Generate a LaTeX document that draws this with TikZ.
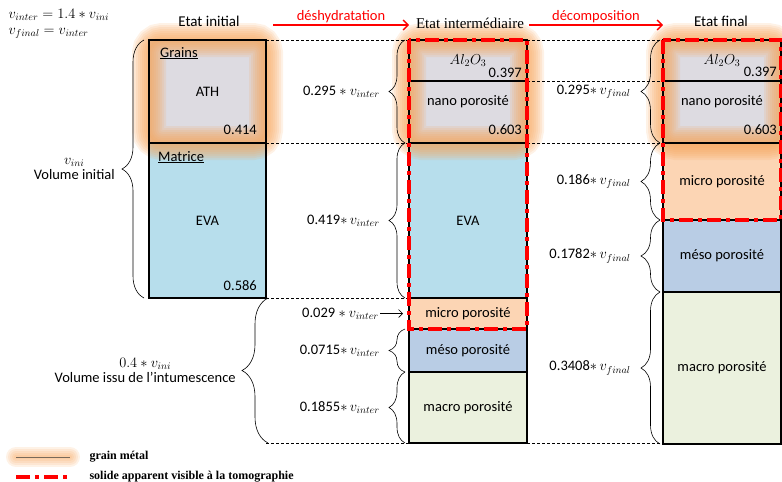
\documentclass[tikz,border=0pt]{standalone}
\usepackage{fontspec}
\setmainfont{Carlito}
\newfontfamily\cambria{Liberation Serif}
\usetikzlibrary{arrows.meta,positioning,calc,decorations.pathreplacing}
\definecolor{graingray}{RGB}{221,219,225}
\definecolor{evablue}{RGB}{183,222,236}
\definecolor{micropeach}{RGB}{252,213,180}
\definecolor{mesoblue}{RGB}{185,205,229}
\definecolor{macrogreen}{RGB}{235,241,222}
\definecolor{haloorange}{RGB}{247,165,90}
\definecolor{tomored}{RGB}{255,0,0}
\definecolor{legline}{RGB}{120,105,90}
\pgfdeclarelayer{fills}
\pgfdeclarelayer{halo}
\pgfsetlayers{fills,halo,main}

\begin{document}
\begin{tikzpicture}[x=1pt, y=-1pt,
      every node/.style={font=\fontsize{14.5}{15}\selectfont},
      box/.style={draw, line width=1.5pt, anchor=north west, minimum width=118pt,
                  inner sep=0pt, outer sep=0pt},
      num/.style={anchor=base east, inner sep=0pt},
      title/.style={font=\fontsize{15}{18}\selectfont},
      guide/.style={densely dashed, line width=0.5pt},
      curly/.style={decorate, decoration={brace, amplitude=#1}, line width=0.6pt},
      curly/.default=16pt,
      blab/.style={inner sep=1pt},
      tomo/.style={tomored, line width=3.5pt, dash pattern=on 14pt off 5pt on 4pt off 5pt},
      redarr/.style={tomored, line width=1.4pt, -{Straight Barb[length=5pt,width=10pt]}},
      redlab/.style={above, inner sep=1pt, text=tomored},
      legtxt/.style={anchor=west, font=\cambria\bfseries\fontsize{12}{13}\selectfont}
    ]
      \useasboundingbox (0,0) rectangle (782,482);

      % etat initial
      \node[box, minimum width=117pt, minimum height=103pt] (ath) at (149,40) {ATH};
      \node[box, minimum width=117pt, minimum height=155pt] (eva1) at (ath.south west) {EVA};
      \node[anchor=base west, inner sep=0pt] (grains) at ([xshift=11pt,yshift=-17pt]ath.north west) {\underline{Grains}};
      \node[anchor=base west, inner sep=0pt] (matrice) at ([xshift=9pt,yshift=-18pt]eva1.north west) {\underline{Matrice}};
      \node[num] (n414) at ([xshift=-9pt,yshift=9pt]ath.south east) {0.414};
      \node[num] (n586) at ([xshift=-9pt,yshift=8pt]eva1.south east) {0.586};

      % etat intermediaire
      \node[box, minimum height=41pt] (alu2) at (409,40) {$Al_2O_3$};
      \node[box, minimum height=62pt] (nano2) at (alu2.south west) {};
      \node[box, minimum height=155pt] (eva2) at (nano2.south west) {EVA};
      \node[box, minimum height=31pt] (micro2) at (eva2.south west) {micro porosité};
      \node[box, minimum height=43pt] (meso2) at (micro2.south west) {méso porosité};
      \node[box, minimum height=71pt] (macro2) at (meso2.south west) {macro porosité};
      \node (nanot2) at ([yshift=10pt]nano2.center) {nano porosité};
      \node[num] (n397b) at ([xshift=-5pt,yshift=4pt]alu2.south east) {0.397};
      \node[num] (n603b) at ([xshift=-5pt,yshift=9pt]nano2.south east) {0.603};

      % etat final
      \node[box, minimum height=41pt] (alu3) at (663,40) {$Al_2O_3$};
      \node[box, minimum height=62pt] (nano3) at (alu3.south west) {};
      \node[box, minimum height=77pt] (micro3) at (nano3.south west) {micro porosité};
      \node[box, minimum height=72pt] (meso3) at (micro3.south west) {méso porosité};
      \node[box, minimum height=152pt] (macro3) at (meso3.south west) {macro porosité};
      \node (nanot3) at ([yshift=10pt]nano3.center) {nano porosité};
      \node[num] (n397c) at ([xshift=-4pt,yshift=5pt]alu3.south east) {0.397};
      \node[num] (n603c) at ([xshift=-4pt,yshift=9pt]nano3.south east) {0.603};

      \begin{pgfonlayer}{fills}
        \foreach \b/\c in {ath/graingray, eva1/evablue, alu2/graingray, nano2/graingray,
                           eva2/evablue, micro2/micropeach, meso2/mesoblue, macro2/macrogreen,
                           alu3/graingray, nano3/graingray, micro3/micropeach, meso3/mesoblue,
                           macro3/macrogreen}
          \fill[\c] (\b.north west) rectangle (\b.south east);
      \end{pgfonlayer}

      % halo des grains
      \begin{pgfonlayer}{halo}
        \foreach \t/\b in {ath/ath, alu2/nano2, alu3/nano3}
          \foreach \w in {2,6,...,34}
            \draw[haloorange, line width=\w pt, opacity=0.15, rounded corners=13pt]
              (\t.north west) rectangle (\b.south east);
      \end{pgfonlayer}

      % titres et transformations
      \node[title] (t1) at (209,21) {Etat initial};
      \node[title, font=\cambria\fontsize{15}{18}\selectfont] (t2) at (470,23) {Etat intermédiaire};
      \node[title] (t3) at (721,21) {Etat final};
      \coordinate (d1) at (273,25);
      \coordinate (d2) at (529,25);
      \draw[redarr] (d1) -- node[redlab] (deshy) {déshydratation} (d1 -| alu2.west);
      \draw[redarr] (d2) -- node[redlab] (decomp) {décomposition} (d2 -| alu3.west);

      \node[anchor=west] (eq1) at (5,15) {$v_{inter} = 1.4 * v_{ini}$};
      \node[anchor=west] (eq2) at (5,33) {$v_{final} = v_{inter}$};

      % lignes de rappel
      \coordinate (intbot) at (eva1.south east |- macro2.south west);
      \draw[guide] (ath.north east) -- (alu2.north west);
      \draw[guide] (alu2.north east) -- (alu3.north west);
      \draw[guide] (alu2.south east) -- (alu3.south west);
      \draw[guide] (ath.south east) -- (nano2.south west);
      \draw[guide] (nano2.south east) -- (nano3.south west);
      \draw[guide] (eva1.south east) -- (eva2.south west);
      \draw[guide] (intbot) -- (macro2.south west);
      \draw[guide] (macro2.south east) -- (macro2.south east -| macro3.west);

      % accolades
      \draw[curly=22pt] ([xshift=-5pt]eva1.south west) --
        node[blab, left=28pt, align=center] (vini) {$v_{ini}$\\Volume initial} ([xshift=-5pt]ath.north west);
      \draw[curly=26pt] ([xshift=2pt]intbot) --
        node[blab, left=31pt, align=center] (vint) {$0.4 * v_{ini}$\\Volume issu de l’intumescence} ([xshift=2pt]eva1.south east);

      \draw[curly] ([xshift=-4pt]nano2.south west) --
        node[blab, left=24pt] (l295b) {0.295 $*$ $v_{inter}$} ([xshift=-4pt]alu2.north west);
      \draw[curly] ([xshift=-4pt]eva2.south west) --
        node[blab, left=24pt] (l419) {0.419$*\,v_{inter}$} ([xshift=-4pt]eva2.north west);
      \node[blab, left=29pt of micro2.west] (l029) {0.029 $*$ $v_{inter}$};
      \draw[-{Straight Barb[length=4pt,width=8pt]}, line width=0.6pt, shorten >=6pt] (l029) -- (micro2);
      \draw[curly] ([xshift=-4pt]meso2.south west) --
        node[blab, left=24pt] (l0715) {0.0715$*\,v_{inter}$} ([xshift=-4pt]meso2.north west);
      \draw[curly] ([xshift=-4pt]macro2.south west) --
        node[blab, left=24pt] (l1855) {0.1855$*\,v_{inter}$} ([xshift=-4pt]macro2.north west);

      \draw[curly=19pt] ([xshift=-3pt]nano3.south west) --
        node[blab, left=28pt] (l295c) {0.295$*\,v_{final}$} ([xshift=-3pt]alu3.north west);
      \draw[curly=19pt] ([xshift=-3pt]micro3.south west) --
        node[blab, left=28pt] (l186) {0.186$*\,v_{final}$} ([xshift=-3pt]micro3.north west);
      \draw[curly=19pt] ([xshift=-3pt]meso3.south west) --
        node[blab, left=28pt] (l1782) {0.1782$*\,v_{final}$} ([xshift=-3pt]meso3.north west);
      \draw[curly=19pt] ([xshift=-3pt]macro3.south west) --
        node[blab, left=28pt] (l3408) {0.3408$*\,v_{final}$} ([xshift=-3pt]macro3.north west);

      % solide apparent
      \draw[tomo] (alu2.north west) rectangle (micro2.south east);
      \draw[tomo] (alu3.north west) rectangle (micro3.south east);

      % legende
      \coordinate (lg1) at (16,457);
      \coordinate (lg2) at (70,457);
      \coordinate (lg3) at (16,477);
      \coordinate (lg4) at (68,477);
      \foreach \w in {4,8,...,20}
        \draw[haloorange, line width=\w pt, opacity=0.15, line cap=round] (lg1) -- (lg2);
      \draw[legline, line width=0.9pt] (lg1) -- (lg2);
      \draw[tomo] (lg3) -- (lg4);
      \node[legtxt] (leg1) at (86,457) {grain métal};
      \node[legtxt] (leg2) at (86,477) {solide apparent visible à la tomographie};
    \end{tikzpicture}
\end{document}
